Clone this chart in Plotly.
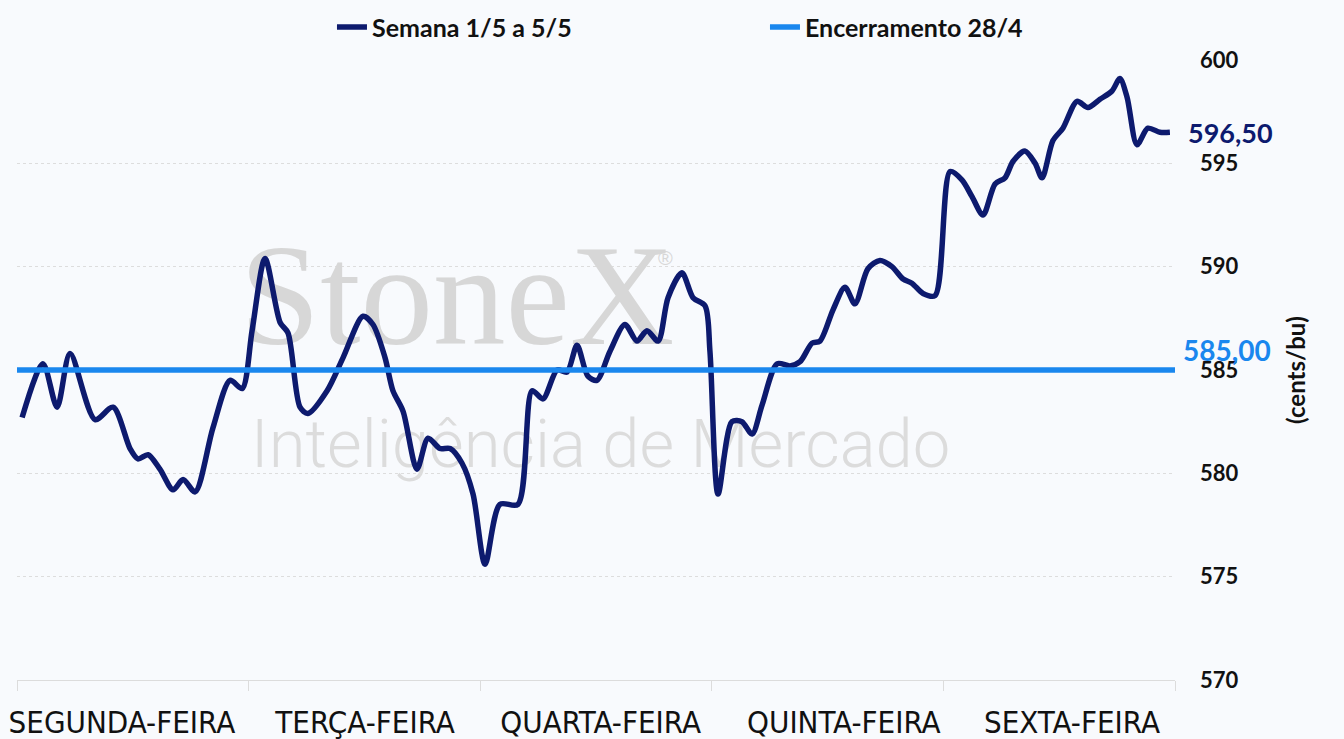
import plotly.graph_objects as go

# --- data ---------------------------------------------------------------
days = ["SEGUNDA-FEIRA", "TERÇA-FEIRA", "QUARTA-FEIRA", "QUINTA-FEIRA", "SEXTA-FEIRA"]
day_label_pos = [0.453, 1.503, 2.52, 3.57, 4.555]
day_bounds = [0, 1, 2, 3, 4, 5]

# time expressed as fraction of the trading week (1 unit = 1 day)
t = [0.022, 0.112, 0.173, 0.229, 0.337, 0.415, 0.488, 0.522, 0.566, 0.617,
     0.674, 0.717, 0.769, 0.846, 0.920, 0.972, 1.015, 1.071, 1.136, 1.170,
     1.222, 1.256, 1.339, 1.408, 1.494, 1.537, 1.589, 1.623, 1.667, 1.727,
     1.775, 1.826, 1.870, 1.921, 1.969, 2.021, 2.085, 2.163, 2.224, 2.271,
     2.332, 2.375, 2.418, 2.465, 2.504, 2.560, 2.625, 2.677, 2.720, 2.768,
     2.811, 2.871, 2.919, 2.971, 2.992, 3.027, 3.087, 3.130, 3.174, 3.217,
     3.282, 3.338, 3.381, 3.433, 3.467, 3.523, 3.575, 3.618, 3.674, 3.726,
     3.778, 3.826, 3.864, 3.912, 3.964, 4.029, 4.080, 4.123, 4.171, 4.223,
     4.266, 4.301, 4.352, 4.396, 4.426, 4.473, 4.516, 4.577, 4.624, 4.676,
     4.728, 4.762, 4.793, 4.836, 4.883, 4.935, 4.978]
price = [582.7, 585.3, 583.2, 585.8, 582.6, 583.2, 581.2, 580.7, 580.9, 580.2,
         579.2, 579.7, 579.1, 582.2, 584.5, 584.1, 586.9, 590.4, 587.3, 586.8,
         583.2, 582.9, 584.0, 585.6, 587.6, 587.2, 585.6, 584.0, 583.0, 580.2,
         581.7, 581.2, 581.2, 580.5, 579.0, 575.6, 578.5, 578.5, 584.0, 583.6,
         585.0, 584.9, 586.2, 584.7, 584.5, 585.9, 587.2, 586.4, 586.9, 586.4,
         588.5, 589.7, 588.5, 588.1, 585.9, 579.0, 582.5, 582.5, 581.9, 583.3,
         585.3, 585.2, 585.4, 586.3, 586.4, 587.9, 589.0, 588.2, 589.9, 590.3,
         590.0, 589.4, 589.2, 588.7, 588.6, 594.6, 594.2, 593.4, 592.5, 594.0,
         594.3, 595.1, 595.6, 595.0, 594.3, 596.1, 596.7, 598.0, 597.7, 598.1,
         598.5, 599.1, 598.2, 595.9, 596.7, 596.5, 596.5]

close_prev = 585.00
last_price = 596.50
ref_t = [0.0, 5.0]

y_ticks = [570, 575, 580, 585, 590, 595, 600]

NAVY = "#0D1A6E"
BLUE = "#1A87EE"
BG = "#F8FAFD"


def br(v):
    return f"{v:.2f}".replace(".", ",")


fig = go.Figure()

# watermark (drawn first so the lines sit above it)
fig.add_trace(go.Scatter(
    x=[1.9], y=[588.0], mode="text", text=["StoneX"],
    textfont=dict(family="Liberation Serif", size=145, color="#D7D7D7"),
    hoverinfo="skip", showlegend=False))
fig.add_trace(go.Scatter(
    x=[2.8], y=[590.3], mode="text", text=["®"],
    textfont=dict(family="Liberation Sans", size=20, color="#D7D7D7"),
    hoverinfo="skip", showlegend=False))
fig.add_trace(go.Scatter(
    x=[2.52], y=[581.1], mode="text", text=["Inteligência de Mercado"],
    textfont=dict(family="Roboto", size=67, color="#DCDCDC", weight=300),
    hoverinfo="skip", showlegend=False))

fig.add_trace(go.Scatter(
    x=t, y=price, mode="lines", name="Semana 1/5 a 5/5",
    line=dict(color=NAVY, width=5.5, shape="spline", smoothing=0.8)))
fig.add_trace(go.Scatter(
    x=ref_t, y=[close_prev, close_prev], mode="lines", name="Encerramento 28/4",
    line=dict(color=BLUE, width=5.5)))

fig.add_annotation(x=1, xref="paper", y=last_price, yref="y", xanchor="left",
                   xshift=11, text=f"<b>{br(last_price)}</b>", showarrow=False,
                   font=dict(family="Lato", size=27, color=NAVY))
fig.add_annotation(x=1, xref="paper", y=close_prev, yref="y", xanchor="left",
                   xshift=6, yshift=20, text=f"<b>{br(close_prev)}</b>", showarrow=False,
                   font=dict(family="Lato", size=28, color=BLUE))

fig.update_layout(
    width=1344, height=739,
    margin=dict(l=17, r=169, t=60, b=59, autoexpand=False),
    paper_bgcolor=BG, plot_bgcolor=BG,
    font=dict(family="Lato", color="#111111"),
    showlegend=True,
    legend=dict(orientation="h", x=0.272, xanchor="left", y=1.053, yanchor="middle",
                font=dict(family="Lato", size=25, color="#111111", weight="bold"),
                entrywidth=388, entrywidthmode="pixels", bgcolor="rgba(0,0,0,0)"),
    xaxis=dict(range=[0, 5], tickvals=day_label_pos, ticktext=days, ticks="",
               showgrid=False, zeroline=False, showline=True, linecolor="#DCDCDC",
               linewidth=1, ticklabelstandoff=15, automargin=False,
               tickfont=dict(family="DejaVu Sans Condensed", size=31, color="#111111"),
               minor=dict(tickvals=day_bounds, ticks="outside", ticklen=10,
                          tickcolor="#DCDCDC", showgrid=False),
               fixedrange=True),
    yaxis=dict(range=[570, 600], side="right", tickvals=y_ticks,
               showgrid=True, gridcolor="#DDDDDD", griddash="dot", gridwidth=1,
               zeroline=False, showline=False, ticks="", automargin=False,
               tickfont=dict(family="Lato", size=22, color="#111111", weight="bold"),
               ticklabelstandoff=24,
               title=dict(text="(cents/bu)", standoff=50,
                          font=dict(family="Lato", size=24, color="#111111", weight="bold")),
               fixedrange=True),
)

fig.write_html("out.html")
